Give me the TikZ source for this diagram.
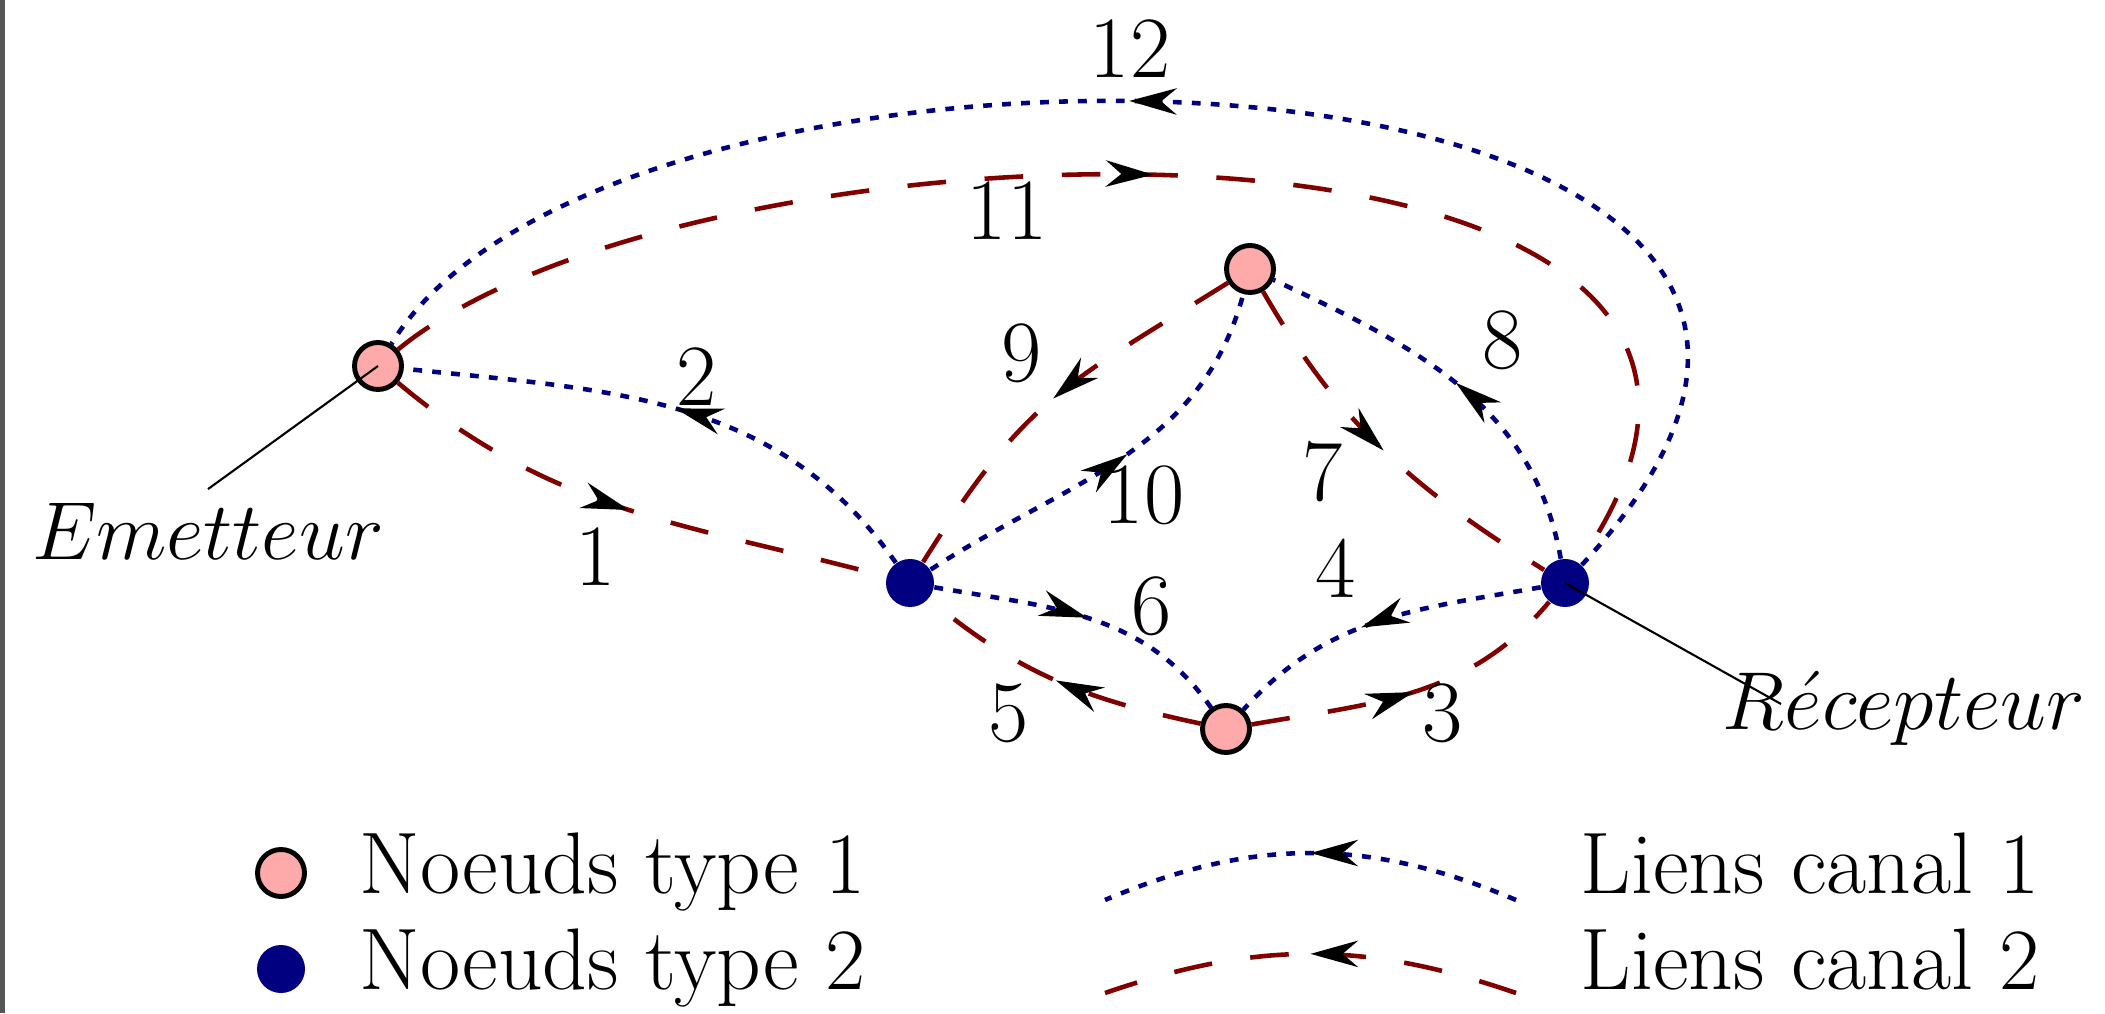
\documentclass[tikz,border=0pt]{standalone}
\usepackage{graphicx}
\usepackage{tikz}
\usetikzlibrary{arrows.meta,decorations.markings}
\definecolor{nPink}{RGB}{255,170,170}
\definecolor{nBlue}{RGB}{0,0,128}
\definecolor{lRed}{RGB}{128,0,0}
\definecolor{barGray}{RGB}{85,85,85}

\begin{document}
\begin{tikzpicture}[
    font=\fontsize{24.88}{30}\selectfont,
    typeone/.style={circle, draw=black, line width=1.4pt, fill=nPink, minimum size=0.47cm, inner sep=0pt},
    typetwo/.style={circle, fill=nBlue, minimum size=0.48cm, inner sep=0pt},
    canalone/.style={draw=nBlue, line width=1.3pt, dash pattern=on 2.5pt off 2.9pt},
    canaltwo/.style={draw=lRed, line width=1.3pt, dash pattern=on 11pt off 11pt},
    midtip/.style={postaction={decorate, decoration={markings, mark=at position #1 with {\arrow{Stealth[length=13.5pt, width=7.5pt, color=black]}}}}},
    midtip/.default=0.5,
    num/.style={inner sep=0pt},
    lbl/.style={inner sep=4pt},
    leader/.style={draw=black, line width=0.6pt}
]
  \useasboundingbox (0,0) rectangle (21.05,10.13);
  \fill[barGray] (0,0) rectangle (0.05,10.13);

  \node[typeone] (E) at (3.78,6.47) {};
  \node[typetwo] (A) at (9.10,4.30) {};
  \node[typeone] (T) at (12.50,7.44) {};
  \node[typeone] (B) at (12.26,2.84) {};
  \node[typetwo] (R) at (15.65,4.30) {};

  \draw[canaltwo, midtip] (E) to[out=-40, in=165] (A);
  \draw[canalone, midtip] (A) to[out=125, in=-6] (E);
  \draw[canaltwo, midtip] (B) to[out=10, in=230] (R);
  \draw[canalone, midtip=0.56] (R) to[out=190, in=48] (B);
  \draw[canaltwo, midtip] (B) to[out=168, in=-40] (A);
  \draw[canalone, midtip] (A) to[out=-10, in=125] (B);
  \draw[canaltwo, midtip] (T) to[out=-60, in=148] (R);
  \draw[canalone, midtip] (R) to[out=100, in=-25] (T);
  \draw[canaltwo, midtip] (T) to[out=212, in=58, looseness=1.2] (A);
  \draw[canalone, midtip=0.53] (A) to[out=33, in=255] (T);
  \draw[canaltwo, midtip=0.51] (E) .. controls (7.0,9.12) and (19.2,9.42) .. (R);
  \draw[canalone, midtip=0.53] (R) .. controls (20.9,9.95) and (6.2,10.45) .. (E);

  \node[num] (n1) at (5.96,4.56) {1};
  \node[num] (n2) at (6.97,6.36) {2};
  \node[num] (n3) at (14.43,3.00) {3};
  \node[num] (n4) at (13.36,4.45) {4};
  \node[num] (n5) at (10.09,3.00) {5};
  \node[num] (n6) at (11.52,4.07) {6};
  \node[num] (n7) at (13.23,5.41) {7};
  \node[num] (n8) at (15.03,6.73) {8};
  \node[num] (n9) at (10.22,6.60) {9};
  \node[num] (n10) at (11.44,5.18) {10};
  \node[num] (n11) at (10.07,8.02) {11};
  \node[num] (n12) at (11.30,9.64) {12};

  \node[lbl, anchor=base] (lblE) at (2.08,4.53) {\scalebox{0.94}{$Emetteur$}};
  \node[lbl, anchor=base] (lblR) at (19.04,2.84) {\scalebox{0.94}{$R\acute{e}cepteur$}};
  \coordinate (rfoot) at (17.81,3.09);
  \draw[leader] (E.center) -- (lblE.north);
  \draw[leader] (R.center) -- (rfoot);

  \node[typeone] (k1) at (2.81,1.40) {};
  \node[typetwo] (k2) at (2.81,0.44) {};
  \node[lbl, anchor=base west] (t1) at (3.45,1.20) {Noeuds type 1};
  \node[lbl, anchor=base west] (t2) at (3.45,0.24) {Noeuds type 2};
  \coordinate (b1) at (11.05,1.13);
  \coordinate (b2) at (15.16,1.13);
  \coordinate (r1) at (11.05,0.20);
  \coordinate (r2) at (15.16,0.20);
  \draw[canalone, midtip] (b2) to[bend right=23] (b1);
  \draw[canaltwo, midtip] (r2) to[bend right=19] (r1);
  \node[lbl, anchor=base west] (t3) at (15.66,1.20) {Liens canal 1};
  \node[lbl, anchor=base west] (t4) at (15.66,0.24) {Liens canal 2};
\end{tikzpicture}
\end{document}
